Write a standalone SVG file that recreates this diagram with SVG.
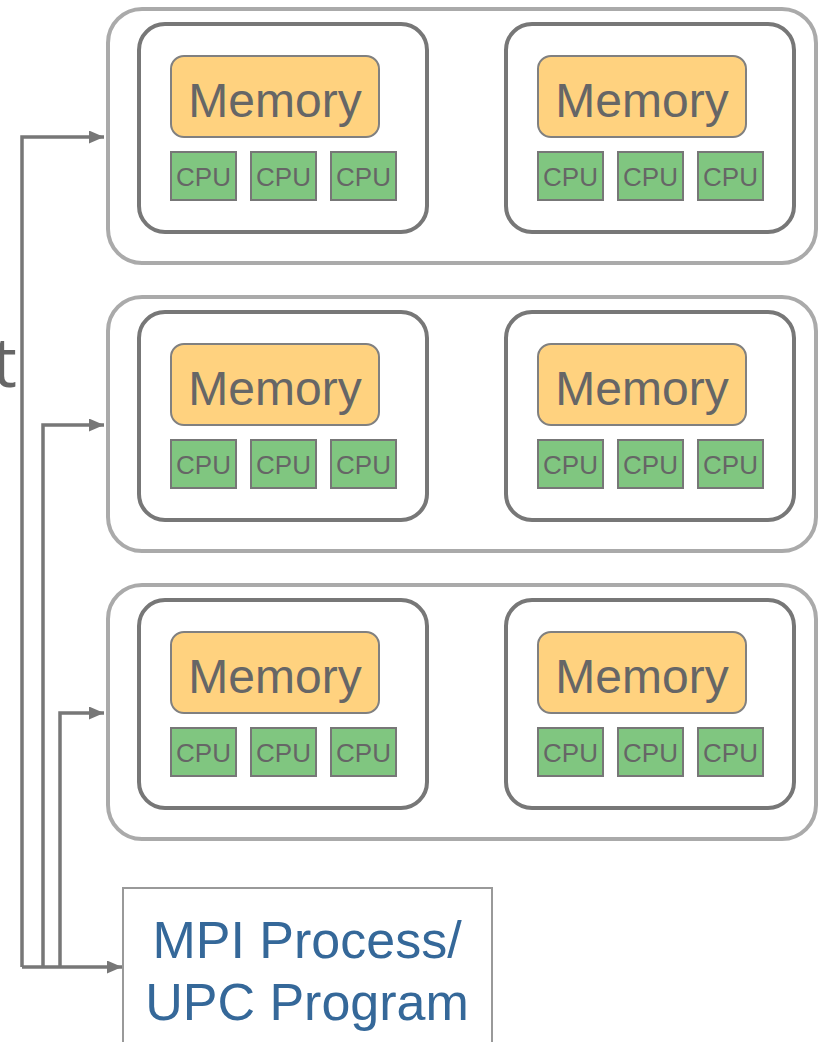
<svg xmlns="http://www.w3.org/2000/svg" width="819" height="1042" viewBox="0 0 819 1042">
<style>
.outer{fill:#fff;stroke:#aaaaaa;stroke-width:4}
.inner{fill:#fff;stroke:#777777;stroke-width:4}
.mem{fill:#ffd27f;stroke:#808080;stroke-width:2}
.cpu{fill:#80c680;stroke:#777777;stroke-width:2}
.memt{font-family:"Liberation Sans",Arial,sans-serif;font-size:48px;fill:#666666;text-anchor:middle}
.cput{font-family:"Liberation Sans",Arial,sans-serif;font-size:26px;fill:#666666;text-anchor:middle}
.conn{fill:none;stroke:#777777;stroke-width:3.5}
.mpit{font-family:"Liberation Sans",Arial,sans-serif;font-size:52px;fill:#356899;text-anchor:middle}
</style>
<defs>
<marker id="arr" viewBox="0 0 15 13" refX="15" refY="6.5" markerWidth="15" markerHeight="13" markerUnits="userSpaceOnUse" orient="auto">
<path d="M0,0 L15,6.5 L0,13 z" fill="#777777"/>
</marker>
<g id="socket">
<rect class="inner" x="139" y="24" width="288" height="208" rx="26"/>
<rect class="mem" x="171" y="56" width="208" height="81" rx="13"/>
<text class="memt" x="275" y="117">Memory</text>
<rect class="cpu" x="171" y="152" width="65" height="48"/>
<text class="cput" x="203.5" y="186">CPU</text>
<rect class="cpu" x="251" y="152" width="65" height="48"/>
<text class="cput" x="283.5" y="186">CPU</text>
<rect class="cpu" x="331" y="152" width="65" height="48"/>
<text class="cput" x="363.5" y="186">CPU</text>
</g>
</defs>
<text x="17" y="387" style="font-family:'Open Sans',sans-serif;font-size:70px;fill:#666666;text-anchor:end">t</text>
<g id="node1">
<rect class="outer" x="108" y="9" width="708" height="254" rx="34"/>
<use href="#socket"/>
<use href="#socket" x="367"/>
</g>
<g id="node2">
<rect class="outer" x="108" y="297" width="708" height="254" rx="34"/>
<use href="#socket" y="288"/>
<use href="#socket" x="367" y="288"/>
</g>
<g id="node3">
<rect class="outer" x="108" y="585" width="708" height="254" rx="34"/>
<use href="#socket" y="576"/>
<use href="#socket" x="367" y="576"/>
</g>
<g id="mpi">
<rect x="123" y="888" width="369" height="170" fill="#fff" stroke="#999999" stroke-width="2"/>
<text class="mpit" x="307" y="958">MPI Process/</text>
<text class="mpit" x="307" y="1020">UPC Program</text>
</g>
<g id="connectors">
<path class="conn" d="M22,967 V137 H104" marker-end="url(#arr)"/>
<path class="conn" d="M43,967 V425 H104" marker-end="url(#arr)"/>
<path class="conn" d="M60,967 V713 H104" marker-end="url(#arr)"/>
<path class="conn" d="M22,967 H122" marker-end="url(#arr)"/>
</g>
</svg>
